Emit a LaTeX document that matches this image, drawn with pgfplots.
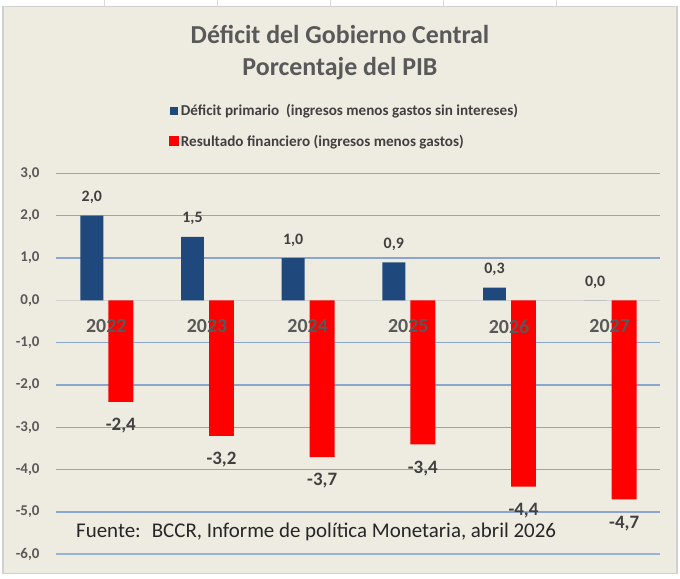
\documentclass[border=0pt]{standalone}
\usepackage{fontspec}
\setmainfont{Carlito}
\usepackage{pgfplots}
\pgfplotsset{compat=1.18}
\pgfdeclarelayer{background}
\pgfsetlayers{background,main}
\definecolor{bg}{HTML}{EEECE1}
\definecolor{barblue}{HTML}{1F497D}
\definecolor{barred}{HTML}{FF0000}
\definecolor{gridblue}{HTML}{8AA6CC}
\definecolor{zeroline}{HTML}{D2D2D0}
\definecolor{titlegray}{HTML}{595959}
\definecolor{tickgray}{HTML}{595959}
\definecolor{labgray}{HTML}{404040}
\definecolor{srcgray}{HTML}{262626}
\begin{document}
\begin{tikzpicture}[x=1bp,y=1bp]
\begin{axis}[
  scale only axis, width=604bp, height=381bp,
  xmin=-0.5, xmax=5.5, ymin=-6, ymax=3,
  axis x line=middle, axis y line=left,
  x axis line style={draw=zeroline, line width=1.5bp, -},
  y axis line style={draw=none},
  hide obscured x ticks=false, hide obscured y ticks=false,
  major tick length=0pt, tick style={draw=none},
  xtick=\empty,
  ytick={-6,-5,-4,-3,-2,-1,0,1,2,3},
  yticklabel style={font=\bfseries\fontsize{15}{18}\selectfont, text=tickgray, anchor=east, xshift=-13bp},
  /pgf/number format/use comma,
  /pgf/number format/fixed,
  /pgf/number format/fixed zerofill,
  /pgf/number format/precision=1,
  /pgf/number format/assume math mode=true,
  ymajorgrids, grid style={draw=gridblue, line width=1.2bp},
  extra y ticks={-6}, extra y tick labels={},
  extra y tick style={grid style={draw=gridblue!85, line width=2bp}},
  ybar,
  legend style={at={(axis description cs:0.1866,1.187)}, anchor=north west, draw=none, fill=none,
    font=\bfseries\fontsize{15.2}{18}\selectfont, text=labgray, row sep=14bp, inner sep=0pt},
  legend cell align=left,
]
\addplot[fill=barblue, draw=none, bar width=0.228, bar shift=-0.144,
  legend image code/.code={\fill[barblue] (0bp,-4bp) rectangle (8bp,4bp);},
  nodes near coords,
  every node near coord/.append style={font=\bfseries\fontsize{16}{19}\selectfont, text=labgray, anchor=center, yshift=18bp}]
  coordinates {(0,2.0) (1,1.5) (2,1.0) (3,0.9) (4,0.3) (5,0.0)};
\addlegendentry{Déficit primario~ (ingresos menos gastos sin intereses)}
\addplot[fill=barred, draw=none, bar width=0.248, bar shift=0.144,
  legend image code/.code={\fill[barred] (-1bp,-5bp) rectangle (9bp,5bp);},
  nodes near coords,
  every node near coord/.append style={font=\bfseries\fontsize{19}{22}\selectfont, text=labgray, anchor=center, yshift=-24bp}]
  coordinates {(0,-2.4) (1,-3.2) (2,-3.7) (3,-3.4) (4,-4.4) (5,-4.7)};
\addlegendentry{Resultado financiero (ingresos menos gastos)}
\addplot[draw=none, fill=none, bar width=0.01, bar shift=0, forget plot,
  nodes near coords, point meta=explicit symbolic,
  every node near coord/.append style={font=\bfseries\fontsize{20}{24}\selectfont, text=tickgray, anchor=center, yshift=-26bp}]
  table[meta=year] {
x y year
0 0 2022
1 0 2023
2 0 2024
3 0 2025
4 0 2026
5 0 2027
};
\coordinate (SW) at (rel axis cs:0,0);
\end{axis}
\begin{scope}[shift={(SW)}]
\begin{pgfonlayer}{background}
\fill[white] (-56,-24) rectangle (624,554);
\foreach \xx in {104,217,330,443,556} \draw[black!15, line width=0.8bp] (\xx-56,548) -- (\xx-56,554);
\fill[bg, draw=black!18, line width=1.5bp] (-53,-19) rectangle (621,548);
\end{pgfonlayer}
\node[font=\bfseries\fontsize{26}{32}\selectfont, text=titlegray, align=center] at (284,501.5) {Déficit del Gobierno Central\\Porcentaje del PIB};
\node[anchor=west, inner sep=0pt, font=\fontsize{21}{25}\selectfont, text=srcgray] at (20,22) {Fuente:~ BCCR, Informe de política Monetaria, abril 2026};
\end{scope}
\end{tikzpicture}
\end{document}
